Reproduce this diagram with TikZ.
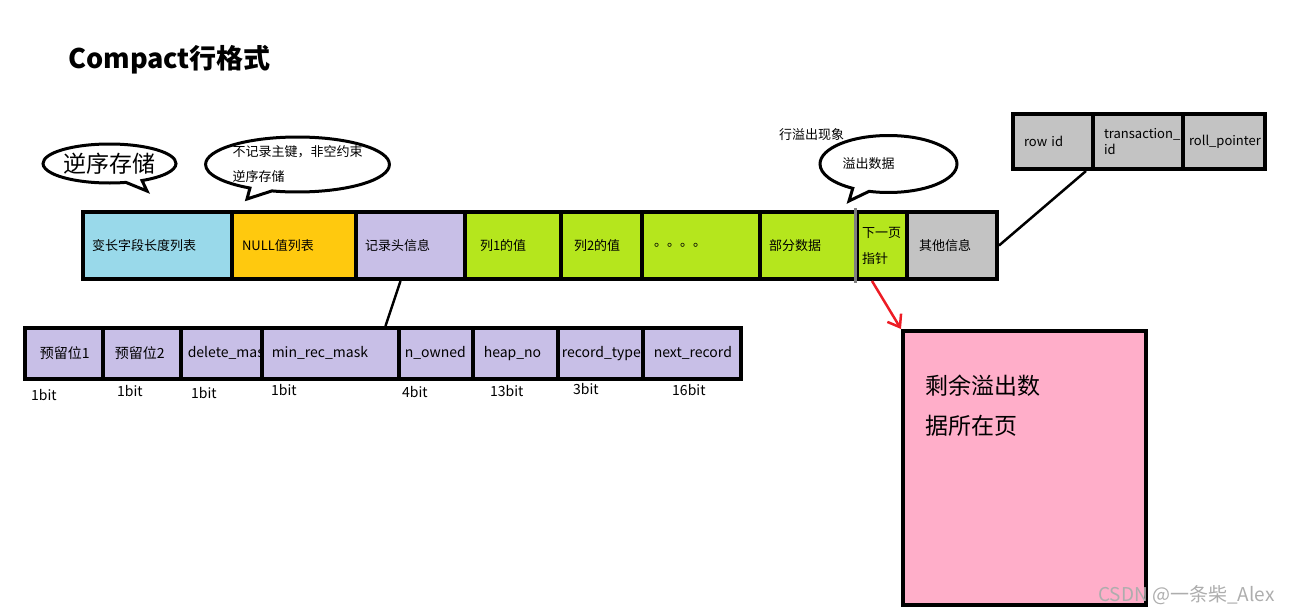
\documentclass[tikz,border=0pt]{standalone}
\usepackage{fontspec}
\setmainfont{Noto Sans CJK SC}
\usetikzlibrary{shapes.callouts,arrows.meta}

\hyphenpenalty=10000
\exhyphenpenalty=10000

\definecolor{lenblue}{HTML}{99D9EA}
\definecolor{nullorange}{HTML}{FFC90E}
\definecolor{hdrpurple}{HTML}{C8BFE7}
\definecolor{colgreen}{HTML}{B5E61D}
\definecolor{sysgray}{HTML}{C3C3C3}
\definecolor{pagepink}{HTML}{FFAEC9}
\definecolor{ptrred}{HTML}{ED1C24}
\definecolor{divgray}{HTML}{7F7F7F}

\begin{document}
\begin{tikzpicture}[
    x=1pt, y=-1pt,
    cell/.style={draw, line width=4pt, anchor=north west,
        minimum height=67pt, inner xsep=9pt, align=left,
        font=\fontsize{13}{16}\selectfont},
    field/.style={draw, line width=3.5pt, anchor=north west, fill=hdrpurple,
        minimum height=51pt, align=left,
        font=\fontsize{14}{17}\selectfont},
    sysbox/.style={draw, line width=4pt, anchor=north west, fill=sysgray,
        minimum height=55pt, inner xsep=11pt, align=left,
        font=\fontsize{13}{16}\selectfont},
    bitlabel/.style={anchor=west, inner sep=0pt,
        font=\fontsize{14}{17}\selectfont},
    bubble/.style={ellipse callout, draw, line width=3pt, fill=white,
        inner sep=0pt},
    note/.style={anchor=west, inner sep=0pt,
        font=\fontsize{13}{16}\selectfont},
    link/.style={line width=2.5pt},
]
    \useasboundingbox (0,0) rectangle (1292,613);

    % title
    \node [anchor=west, inner sep=0pt, font=\fontsize{27}{32}\selectfont\bfseries]
        (title) at (68,60) {Compact行格式};

    % callouts above the row
    \node [bubble, minimum width=133pt, minimum height=39pt,
        callout absolute pointer={(147,191)},
        font=\fontsize{23}{28}\selectfont]
        (revnote) at (109.5,163.5) {逆序存储};
    \node [bubble, minimum width=181pt, minimum height=55pt,
        callout absolute pointer={(247,199)}, align=left,
        font=\fontsize{13}{25}\selectfont]
        (nullnote) at (297.5,164.5) {不记录主键，非空约束\\逆序存储};
    \node [bubble, minimum width=137pt, minimum height=57pt,
        callout absolute pointer={(849,201)}]
        (spill) at (888.5,164) {};
    \node [note] (spilltxt) at ([xshift=24pt]spill.west) {溢出数据};
    \node [note] (spillhead) at (779,135) {行溢出现象};

    % the compact row
    \node [cell, fill=lenblue, text width=131pt]
        (varlen) at (81,210) {变长字段长度列表};
    \node [cell, fill=nullorange, inner xsep=10pt, text width=104pt]
        (nulls) at (230,210) {NULL值列表};
    \node [cell, fill=hdrpurple, text width=91pt]
        (hdr) at (354,210) {记录头信息};
    \node [cell, fill=colgreen, inner xsep=15pt, text width=66pt]
        (col1) at (463,210) {列1的值};
    \node [cell, fill=colgreen, inner xsep=13pt, text width=55pt]
        (col2) at (559,210) {列2的值};
    \node [cell, fill=colgreen, inner xsep=12pt, text width=94pt]
        (dots) at (640,210) {。。。。};
    \node [cell, fill=colgreen, text width=79pt]
        (part) at (758,210) {部分数据};
    \node [cell, fill=colgreen, inner xsep=5pt, text width=40pt,
        font=\fontsize{13}{26}\selectfont]
        (ptr) at (855,210) {下一页\\指针};
    \node [cell, fill=sysgray, inner xsep=12pt, text width=66pt]
        (other) at (905,210) {其他信息};
    \draw [line width=3pt, divgray, shorten <=-2pt, shorten >=-2pt]
        (ptr.north west) -- (ptr.south west);

    % hidden columns
    \node [sysbox, text width=58pt] (rowid) at (1011,112) {row id};
    \node [sysbox, text width=68pt] (trxid) at (1091,112) {\mbox{transaction\_}\\ id};
    \node [sysbox, inner xsep=6pt, text width=70pt] (rollptr) at (1181,112) {roll\_pointer};

    % record header bits
    \node [field, inner xsep=15pt, text width=48pt] (res1) at (23,326) {预留位1};
    \node [field, inner xsep=12pt, text width=54pt] (res2) at (101,326) {预留位2};
    \node [field, inner xsep=7pt, text width=67pt] (delmask) at (179,326) {\mbox{delete\_mask}};
    \node [field, inner xsep=10pt, text width=117pt] (minrec) at (260,326) {min\_rec\_mask};
    \node [field, inner xsep=6pt, text width=62pt] (nowned) at (397,326) {n\_owned};
    \node [field, inner xsep=11pt, text width=63pt] (heapno) at (471,326) {heap\_no};
    \node [field, inner xsep=4pt, text width=77pt] (rectype) at (556,326) {record\_type};
    \node [field, inner xsep=11pt, text width=76pt] (nextrec) at (641,326) {next\_record};

    \node [bitlabel] (bit1) at (31,395) {1bit};
    \node [bitlabel] (bit2) at (117,391) {1bit};
    \node [bitlabel] (bit3) at (191,393) {1bit};
    \node [bitlabel] (bit4) at (271,390) {1bit};
    \node [bitlabel] (bit5) at (402,392) {4bit};
    \node [bitlabel] (bit6) at (490,391) {13bit};
    \node [bitlabel] (bit7) at (573,389) {3bit};
    \node [bitlabel] (bit8) at (672,390) {16bit};

    % overflow page
    \node [draw, line width=4pt, fill=pagepink, anchor=north west,
        minimum width=243pt, minimum height=274pt]
        (page) at (901,329) {};
    \node [anchor=west, inner sep=0pt, align=left,
        font=\fontsize{23}{40}\selectfont]
        (pagetxt) at ([xshift=24pt, yshift=-77pt]page.north west) {剩余溢出数\\据所在页};

    % connectors
    \draw [link] ([xshift=-10pt]hdr.south) -- ([xshift=-15pt]minrec.north east);
    \draw [link] (other.east) -- ([xshift=-9pt]rowid.south east);
    \draw [line width=2.5pt, ptrred, -{Straight Barb[length=11pt, width=16pt]}]
        ([xshift=-10pt]ptr.south) -- (page.north west);

    \node [anchor=west, inner sep=0pt, text=black!32,
        font=\fontsize{19}{22}\selectfont]
        (mark) at (1098,595) {CSDN @一条柴\_Alex};
\end{tikzpicture}
\end{document}
